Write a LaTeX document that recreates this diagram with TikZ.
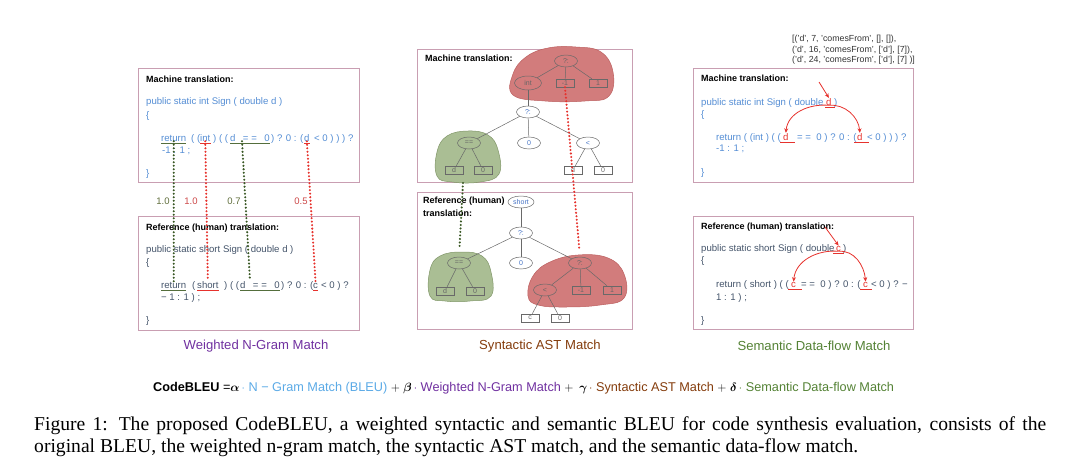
\documentclass[tikz,border=0pt]{standalone}
\usepackage{fontspec}
\usepackage{amsmath}
\setmainfont{Liberation Serif}
\setsansfont{Liberation Sans}
\usetikzlibrary{arrows.meta,shapes.geometric}
\definecolor{boxpink}{RGB}{201,158,178}
\definecolor{mcode}{RGB}{84,141,212}
\definecolor{rcode}{RGB}{68,84,106}
\definecolor{dgreen}{RGB}{56,87,35}
\definecolor{ulgreen}{RGB}{84,110,60}
\definecolor{dred}{RGB}{230,50,45}
\definecolor{wgreen}{RGB}{96,110,60}
\definecolor{wred}{RGB}{204,72,72}
\definecolor{astgray}{RGB}{105,105,105}
\definecolor{astblue}{RGB}{68,114,196}
\definecolor{blobred}{RGB}{210,124,124}
\definecolor{blobredline}{RGB}{188,96,96}
\definecolor{blobgreen}{RGB}{170,190,148}
\definecolor{blobgreenline}{RGB}{128,150,104}
\definecolor{ngram}{RGB}{112,48,160}
\definecolor{astbrown}{RGB}{132,60,12}
\definecolor{dfgreen}{RGB}{84,130,53}
\definecolor{bleublue}{RGB}{91,170,230}

\begin{document}
\begin{tikzpicture}[x=1pt,y=-1pt,
  panel/.style={draw=boxpink, line width=0.7pt},
  head/.style={font=\fontsize{9}{11}\sffamily\bfseries, anchor=base west, inner sep=0pt},
  mc/.style={font=\fontsize{9.6}{11}\sffamily, text=mcode, anchor=base west, inner sep=0pt},
  rc/.style={mc, text=rcode},
  listtxt/.style={font=\fontsize{8.8}{10}\sffamily, text=black!80, anchor=base west, inner sep=0pt},
  gul/.style={draw=ulgreen, line width=0.6pt},
  rul/.style={draw=dred, line width=0.6pt},
  gdot/.style={draw=dgreen, line width=2.3pt, line cap=round, dash pattern=on 0pt off 3.5pt},
  rdot/.style={draw=dred, line width=2.3pt, line cap=round, dash pattern=on 0pt off 3.5pt},
  weight/.style={font=\fontsize{9.5}{11}\sffamily},
  en/.style={ellipse, draw=astgray, line width=0.5pt, minimum width=23pt, minimum height=12pt, inner sep=0pt, font=\fontsize{7}{8}\sffamily, text=astblue},
  rn/.style={rectangle, draw=astgray, line width=0.5pt, minimum width=18pt, minimum height=8pt, inner sep=0pt, font=\fontsize{7}{8}\sffamily, text=astgray},
  inblob/.style={text=black!60},
  astline/.style={draw=astgray, line width=0.5pt},
  blobR/.style={fill=blobred, draw=blobredline, line width=0.5pt},
  blobG/.style={fill=blobgreen, draw=blobgreenline, line width=0.5pt},
  flow/.style={draw=dred, line width=0.8pt, -{Stealth[length=4.5pt,width=4pt]}},
  match/.style={font=\fontsize{13.1}{15}\sffamily},
  caption/.style={font=\fontsize{19.6}{22}\rmfamily, anchor=base west, inner sep=0pt}]
  \useasboundingbox (0,0) rectangle (1080,464);

  % weighted n-gram panel
  \draw[panel] (138,68) rectangle (359,182);
  \draw[panel] (138,216) rectangle (359,330);
  \node[head] (ngMHead) at (146,82) {Machine translation:};
  \node[mc] (ngMSig) at (146,104) {public static int Sign ( double d )};
  \node[mc] (ngMOpen) at (146,118) {\{};
  \node[mc] (ngMRet) at (161,141) {return};
  \node[mc] (ngMP1) at (191,141) {( (};
  \node[mc] (ngMInt) at (200,141) {int};
  \node[mc] (ngMP2) at (213,141) {) ( (};
  \node[mc] (ngMEq) at (230,141) {d\enspace\ = =\ \enspace0};
  \node[mc] (ngMP3) at (271,141) {) ? 0 : (};
  \node[mc] (ngMD) at (304,141) {d};
  \node[mc] (ngMP4) at (314,141) {< 0 ) ) ) ?};
  \node[mc] (ngMTail) at (162,153) {-1 : 1 ;};
  \node[mc] (ngMClose) at (146,176) {\}};
  \draw[gul] ([yshift=-1.8pt]ngMRet.base west) -- ([yshift=-1.8pt]ngMRet.base east);
  \draw[rul] ([yshift=-1.8pt]ngMInt.base west) -- ([yshift=-1.8pt]ngMInt.base east);
  \draw[gul] ([yshift=-1.8pt]ngMEq.base west) -- ([yshift=-1.8pt]ngMEq.base east);
  \draw[rul] ([yshift=-1.8pt]ngMD.base west) -- ([yshift=-1.8pt]ngMD.base east);

  \node[head] (ngRHead) at (146,230) {Reference (human) translation:};
  \node[rc] (ngRSig) at (146,252) {public static short Sign ( double d )};
  \node[rc] (ngROpen) at (146,265) {\{};
  \node[rc] (ngRRet) at (161,288) {return};
  \node[rc] (ngRP1) at (192,288) {(};
  \node[rc] (ngRShort) at (197,288) {short};
  \node[rc] (ngRP2) at (224,288) {) ( (};
  \node[rc] (ngREq) at (240,288) {d\enspace\ = =\ \enspace0};
  \node[rc] (ngRP3) at (281,288) {) ? 0 : (};
  \node[rc] (ngRC) at (313,288) {c};
  \node[rc] (ngRP4) at (321,288) {< 0 ) ?};
  \node[rc] (ngRTail) at (161,300) {− 1 : 1 ) ;};
  \node[rc] (ngRClose) at (146,323) {\}};
  \draw[gul] ([yshift=-1.8pt]ngRRet.base west) -- ([yshift=-1.8pt]ngRRet.base east);
  \draw[rul] ([yshift=-1.8pt]ngRShort.base west) -- ([yshift=-1.8pt]ngRShort.base east);
  \draw[gul] ([yshift=-1.8pt]ngREq.base west) -- ([yshift=-1.8pt]ngREq.base east);
  \draw[rul] ([yshift=-1.8pt]ngRC.base west) -- ([yshift=-1.8pt]ngRC.base east);

  \node[weight, text=wgreen] (ngW1) at (163,201) {1.0};
  \node[weight, text=wred] (ngW2) at (191,201) {1.0};
  \node[weight, text=wgreen] (ngW3) at (234,201) {0.7};
  \node[weight, text=wred] (ngW4) at (301,201) {0.5};
  \draw[gdot] (ngMRet.south) -- (ngRRet.north);
  \draw[rdot] (ngMInt.south) -- (ngRShort.north);
  \draw[gdot] ([xshift=12pt]ngMEq.south west) -- ([xshift=10pt]ngREq.north west);
  \draw[rdot] (ngMD.south) -- (ngRC.north);

  % syntactic AST panel
  \draw[panel] (417,49) rectangle (632,182);
  \draw[panel] (417,192) rectangle (632,329);
  \draw[blobR] plot[smooth cycle, tension=0.7] coordinates {(513,95) (513,74) (526,57) (548,48) (576,47) (601,52) (613,72) (609,96) (585,101) (545,101)};
  \draw[blobG] plot[smooth cycle, tension=0.7] coordinates {(437,176) (437,152) (447,136) (468,131) (488,135) (498,150) (499,174) (480,182) (452,182)};
  \node[head] (amHead) at (425,61) {Machine translation:};
  \node[en, inblob] (amQ1) at (566,61) {?:};
  \node[en, inblob, minimum width=27pt, minimum height=14pt] (amInt) at (528,83) {int};
  \node[rn, inblob] (amNeg) at (565,83) {-1};
  \node[rn, inblob] (amOne) at (598,83) {1};
  \node[en] (amQ2) at (528,112) {?:};
  \node[en, inblob] (amEq) at (469,143) {==};
  \node[en] (amZero) at (529,143) {0};
  \node[en] (amLt) at (588,143) {<};
  \node[rn, inblob] (amD) at (454,170) {d};
  \node[rn, inblob] (amZ1) at (483,170) {0};
  \node[rn] (amD2) at (573,170) {d};
  \node[rn] (amZ2) at (603,170) {0};
  \draw[astline] (amQ1) -- (amInt);
  \draw[astline] (amQ1) -- (amNeg);
  \draw[astline] (amQ1) -- (amOne);
  \draw[astline] (amInt) -- (amQ2);
  \draw[astline] (amQ2) -- (amEq);
  \draw[astline] (amQ2) -- (amZero);
  \draw[astline] (amQ2) -- (amLt);
  \draw[astline] (amEq) -- (amD);
  \draw[astline] (amEq) -- (amZ1);
  \draw[astline] (amLt) -- (amD2);
  \draw[astline] (amLt) -- (amZ2);

  \draw[blobG] plot[smooth cycle, tension=0.7] coordinates {(430,296) (430,270) (440,256) (462,252) (482,256) (491,272) (491,296) (470,301) (445,301)};
  \draw[blobR] plot[smooth cycle, tension=0.7] coordinates {(528,296) (533,276) (550,262) (578,255) (608,258) (624,274) (624,298) (600,305) (565,307) (538,305)};
  \node[head] (arHeadA) at (423,203) {Reference (human)};
  \node[head] (arHeadB) at (423,216) {translation:};
  \node[en, minimum width=26pt] (arShort) at (521,202) {short};
  \node[en] (arQ1) at (521,233) {?:};
  \node[en, inblob] (arEq) at (459,263) {==};
  \node[en] (arZero) at (521,263) {0};
  \node[en, inblob] (arQ2) at (580,263) {?:};
  \node[rn, inblob] (arD) at (445,291) {d};
  \node[rn, inblob] (arZ1) at (475,291) {0};
  \node[en, inblob] (arLt) at (545,290) {<};
  \node[rn, inblob] (arNeg) at (581,290) {-1};
  \node[rn, inblob] (arOne) at (612,290) {1};
  \node[rn] (arC) at (530,318) {c};
  \node[rn] (arZ2) at (560,318) {0};
  \draw[astline] (arShort) -- (arQ1);
  \draw[astline] (arQ1) -- (arEq);
  \draw[astline] (arQ1) -- (arZero);
  \draw[astline] (arQ1) -- (arQ2);
  \draw[astline] (arEq) -- (arD);
  \draw[astline] (arEq) -- (arZ1);
  \draw[astline] (arQ2) -- (arLt);
  \draw[astline] (arQ2) -- (arNeg);
  \draw[astline] (arQ2) -- (arOne);
  \draw[astline] (arLt) -- (arC);
  \draw[astline] (arLt) -- (arZ2);

  \coordinate (amBlobEnd) at (463,183);
  \draw[gdot, shorten >=8pt] (amBlobEnd) -- (arEq.north);
  \draw[rdot, shorten >=8pt] (amNeg.south) -- (arQ2.north);

  % semantic data-flow panel
  \node[listtxt] (dfList1) at (792,41) {[('d', 7, 'comesFrom', [], []),};
  \node[listtxt] (dfList2) at (792,52) {('d', 16, 'comesFrom', ['d'], [7]),};
  \node[listtxt] (dfList3) at (792,62) {('d', 24, 'comesFrom', ['d'], [7] )]};
  \draw[panel] (693,68) rectangle (913,182);
  \node[head] (dfMHead) at (701,81) {Machine translation:};
  \node[mc] (dfMSig) at (701,105) {public static int Sign ( double};
  \node[mc, text=dred] (dfMd) at (826,105) {d};
  \node[mc] (dfMSigEnd) at (834,105) {)};
  \node[mc] (dfMOpen) at (701,117) {\{};
  \node[mc] (dfMP1) at (716,140) {return ( (int ) ( (};
  \node[mc, text=dred] (dfMa) at (783,140) {d};
  \node[mc] (dfMP2) at (797,140) {= =\ \ 0 ) ? 0 : (};
  \node[mc, text=dred] (dfMb) at (857,140) {d};
  \node[mc] (dfMP3) at (867,140) {< 0 ) ) ) ?};
  \node[mc] (dfMTail) at (716,151) {-1 : 1 ;};
  \node[mc] (dfMClose) at (701,175) {\}};
  \draw[rul] ([yshift=-1.8pt,xshift=-1pt]dfMd.base west) -- ([yshift=-1.8pt,xshift=3pt]dfMd.base east);
  \draw[rul] ([yshift=-1.8pt,xshift=-3pt]dfMa.base west) -- ([yshift=-1.8pt,xshift=6pt]dfMa.base east);
  \draw[rul] ([yshift=-1.8pt,xshift=-3pt]dfMb.base west) -- ([yshift=-1.8pt,xshift=6pt]dfMb.base east);
  \coordinate (dfMHint) at (819,82);
  \draw[flow] (dfMHint) -- (dfMd.north);
  \draw[flow] (dfMd.south) to[out=175,in=85] (dfMa.north);
  \draw[flow] (dfMd.south) to[out=5,in=95] (dfMb.north);

  \draw[panel] (693,216) rectangle (913,329);
  \node[head] (dfRHead) at (701,229) {Reference (human) translation:};
  \node[rc] (dfRSig) at (701,251) {public static short Sign ( double};
  \node[rc, text=dred] (dfRc) at (836,251) {c};
  \node[rc] (dfRSigEnd) at (843,251) {)};
  \node[rc] (dfROpen) at (701,263) {\{};
  \node[rc] (dfRP1) at (716,287) {return ( short ) ( (};
  \node[rc, text=dred] (dfRa) at (791,287) {c};
  \node[rc] (dfRP2) at (801,287) {= =\ \ 0 ) ? 0 : (};
  \node[rc, text=dred] (dfRb) at (863,287) {c};
  \node[rc] (dfRP3) at (871,287) {< 0 ) ? −};
  \node[rc] (dfRTail) at (716,300) {1 : 1 ) ;};
  \node[rc] (dfRClose) at (701,323) {\}};
  \draw[rul] ([yshift=-1.8pt,xshift=-3pt]dfRc.base west) -- ([yshift=-1.8pt,xshift=3pt]dfRc.base east);
  \draw[rul] ([yshift=-1.8pt,xshift=-3pt]dfRa.base west) -- ([yshift=-1.8pt,xshift=6pt]dfRa.base east);
  \draw[rul] ([yshift=-1.8pt,xshift=-3pt]dfRb.base west) -- ([yshift=-1.8pt,xshift=4pt]dfRb.base east);
  \coordinate (dfRHint) at (825,227);
  \draw[flow] (dfRHint) -- (dfRc.north);
  \draw[flow] (dfRc.south) to[out=175,in=85] (dfRa.north);
  \draw[flow] (dfRc.south) to[out=5,in=95] (dfRb.north);

  % match names and formula
  \node[match, text=ngram] (lblNgram) at (256,346) {Weighted N-Gram Match};
  \node[match, text=astbrown] (lblAst) at (540,346) {Syntactic AST Match};
  \node[match, text=dfgreen] (lblDf) at (814,346) {Semantic Data-flow Match};
  \node[font=\fontsize{12.7}{14}\sffamily, anchor=west, inner sep=0pt] (codebleu) at (153,388)
    {\textbf{CodeBLEU} =$\boldsymbol{\alpha}$\,\textcolor{bleublue}{$\cdot$ N − Gram Match (BLEU)} $+$ $\boldsymbol{\beta}$\,\textcolor{ngram}{$\cdot$ Weighted N-Gram Match} $+$ \,$\boldsymbol{\gamma}$\,\textcolor{astbrown}{$\cdot$ Syntactic AST Match} $+$ $\boldsymbol{\delta}$\,\textcolor{dfgreen}{$\cdot$ Semantic Data-flow Match}};

  % caption
  \node[caption] (capA) at (34,430) {\makebox[1012pt][s]{Figure 1: The proposed CodeBLEU, a weighted syntactic and semantic BLEU for code synthesis evaluation, consists of the}};
  \node[caption] (capB) at (34,452) {original BLEU, the weighted n-gram match, the syntactic AST match, and the semantic data-flow match.};
\end{tikzpicture}
\end{document}
